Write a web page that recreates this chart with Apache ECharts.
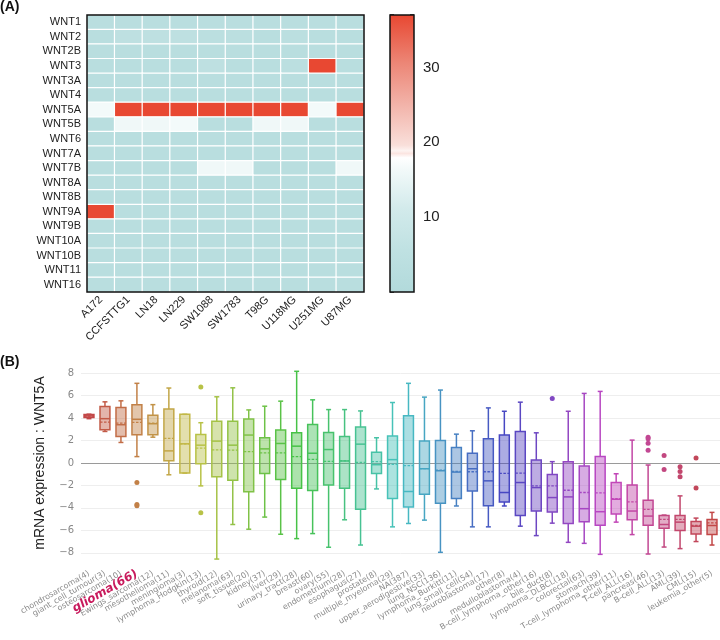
<!DOCTYPE html>
<html><head><meta charset="utf-8">
<script src="https://cdn.jsdelivr.net/npm/echarts@6/dist/echarts.min.js"></script>
<style>html,body{margin:0;padding:0;background:#fff}#c{width:720px;height:640px}</style>
</head><body><div id="c"></div>
<script>
// ---------- Panel A data ----------
const cellLines = ['A172','CCFSTTG1','LN18','LN229','SW1088','SW1783','T98G','U118MG','U251MG','U87MG'];
const wntGenes = ['WNT1','WNT2','WNT2B','WNT3','WNT3A','WNT4','WNT5A','WNT5B','WNT6','WNT7A','WNT7B','WNT8A','WNT8B','WNT9A','WNT9B','WNT10A','WNT10B','WNT11','WNT16'];
const heatRows = [
  [3,3,3,3,3,3,3,3,3,3],
  [3,5,5,5,4,4,3,4,3,3],
  [3,3,3,3,3,3,3,3,3,3],
  [3,3,3,3,5,3,3,4,37,3],
  [3,3,3,3,3,3,3,3,3,3],
  [3,3,3,3,3,3,3,3,3,3],
  [16.5,37,37,37,37,37,37,37,16.5,37],
  [3,16,16,16.5,3,3,16,16,3,3],
  [3,3,3,3,3,3,3,3,3,3],
  [3,3,3,3,3,3,3,3,3,3],
  [3,3,3,3,16,16,3,3,3,16],
  [3,3,3,3,3,3,3,3,3,3],
  [3,3,3,3,3,3,3,3,3,3],
  [37,3,3,3,3,3,3,3,3,3],
  [3,3,3,3,3,3,3,3,3,3],
  [3,3,3,3,3,3,3,3,3,3],
  [3,3,3,3,3,3,3,3,3,3],
  [3,3,3,3,3,3,3,3,3,3],
  [3,3,3,3,3,3,3,3,3,3]
];
const colorMin = 0, colorMax = 37;
const colorTicks = [10, 20, 30];

// ---------- Panel B data ----------
const boxCats = ['chondrosarcoma(4)','giant_cell_tumour(3)','osteosarcoma(10)','glioma(66)','Ewings_sarcoma(12)','mesothelioma(11)','meningioma(3)','lymphoma_Hodgkin(13)','thyroid(12)','melanoma(63)','soft_tissue(20)','kidney(37)','liver(29)','urinary_tract(28)','breast(60)','ovary(55)','endometrium(28)','esophagus(27)','prostate(8)','multiple_myeloma(29)','NA(387)','upper_aerodigestive(33)','lung_NSC(136)','lymphoma_Burkitt(11)','lung_small_cell(54)','neuroblastoma(17)','other(8)','medulloblastoma(4)','B-cell_lymphoma_other(16)','bile_duct(8)','lymphoma_DLBCL(18)','colorectal(63)','stomach(39)','T-cell_lymphoma_other(11)','T-cell_ALL(16)','pancreas(46)','B-cell_ALL(13)','AML(39)','CML(15)','leukemia_other(5)'];
const boxLow  = [3.95,2.81,1.83,0.57,2.3,-1.05,-0.9,-2.04,-8.56,-5.48,-5.9,-4.82,-6.35,-6.74,-6.29,-7.51,-5.06,-7.31,-2.31,-5.69,-5.39,-5.09,-7.96,-3.83,-5.69,-5.69,-3.83,-5.63,-6.47,-5.36,-7.07,-7.16,-8.14,-5.27,-6.38,-8.11,-7.49,-7.63,-7.0,-7.31];
const boxQ1   = [4.05,2.96,2.37,2.51,2.51,0.21,-0.9,-0.06,-1.23,-1.53,-2.57,-0.93,-1.47,-2.25,-2.46,-1.95,-2.25,-4.13,-0.93,-3.17,-3.92,-2.78,-3.59,-3.17,-2.49,-3.8,-3.47,-4.67,-4.28,-4.37,-5.39,-5.24,-5.54,-4.55,-5.06,-5.54,-5.81,-6.02,-6.32,-6.38];
const boxMed  = [4.2,3.95,3.41,3.89,3.5,1.08,1.71,1.59,1.95,1.59,2.49,1.26,1.74,1.5,0.87,1.2,0.18,1.68,-0.15,0.3,-2.54,-0.51,-0.69,-0.81,-0.51,-1.59,-2.63,-1.74,-2.19,-3.08,-3.02,-4.07,-4.34,-3.23,-4.28,-4.73,-5.48,-5.27,-5.63,-5.57];
const boxQ3   = [4.32,5.03,4.94,5.18,4.25,4.82,4.34,2.54,3.71,3.71,3.92,2.25,2.93,2.69,3.44,2.72,2.37,3.2,0.96,2.4,4.22,1.95,2.0,1.38,0.87,2.16,2.49,2.81,0.27,-1.02,0.12,-0.27,0.57,-1.74,-1.95,-3.32,-4.67,-4.67,-5.21,-5.03];
const boxHigh = [4.35,5.45,5.54,7.1,5.2,6.68,4.34,3.59,5.9,6.7,4.73,5.06,5.51,8.17,5.63,4.76,4.76,4.64,2.25,5.39,7.1,5.87,6.5,2.57,2.87,4.91,4.61,5.42,2.69,0.12,4.61,6.2,6.38,-0.96,2.04,-0.18,-4.64,-2.93,-4.91,-4.4];
const boxMean = [4.18,3.65,3.56,3.62,3.55,2.19,1.71,1.32,1.17,1.14,1.02,0.9,0.9,0.57,0.33,0.15,0.2,0.06,0.12,-0.12,-0.24,-0.51,-0.63,-0.75,-0.78,-0.78,-0.93,-0.9,-2.04,-2.04,-2.43,-2.63,-2.66,-3.17,-3.47,-4.13,-5.03,-5.03,-5.57,-5.33];
const outlierCats = ['glioma(66)','glioma(66)','glioma(66)','lymphoma_Hodgkin(13)','lymphoma_Hodgkin(13)','bile_duct(8)','pancreas(46)','pancreas(46)','pancreas(46)','pancreas(46)','B-cell_ALL(13)','B-cell_ALL(13)','AML(39)','AML(39)','AML(39)','CML(15)','CML(15)'];
const outlierVals = [-1.74,-3.7,-3.8,6.77,-4.43,5.75,2.3,2.15,1.77,1.14,0.66,-0.57,-0.33,-0.75,-1.23,0.45,-2.22];
const yTicks = [-8,-6,-4,-2,0,2,4,6,8];
const highlightCat = 'glioma(66)';

// ---------- styling helpers ----------
const stops = [[0,'#b2dadb'],[0.15,'#bfe1e2'],[0.3,'#d2eaeb'],[0.45,'#f4fafa'],[0.485,'#ffffff'],[0.5,'#fbe5e1'],[0.51,'#fdf3f1'],[0.53,'#f9dfda'],[0.68,'#f2b2a8'],[0.83,'#ec8575'],[1,'#e84832']];
function hex2rgb(h){return [parseInt(h.slice(1,3),16),parseInt(h.slice(3,5),16),parseInt(h.slice(5,7),16)];}
function colorAt(t){
  for(let k=1;k<stops.length;k++){
    if(t<=stops[k][0]){
      const [t0,c0]=stops[k-1],[t1,c1]=stops[k];
      const f=(t-t0)/(t1-t0), a=hex2rgb(c0), b=hex2rgb(c1);
      return 'rgb('+a.map((v,i)=>Math.round(v+(b[i]-v)*f)).join(',')+')';
    }
  }
  return stops[stops.length-1][1];
}
const rampColors = Array.from({length:75},(_,k)=>colorAt(k/74));
function catHue(i){return 360*i/(boxCats.length-1);}
function catColor(i){return 'hsl('+catHue(i).toFixed(1)+',50%,52%)';}
function catFill(i){return 'hsla('+catHue(i).toFixed(1)+',50%,52%,0.45)';}

const heatData = [];
heatRows.forEach((row,r)=>row.forEach((v,c)=>heatData.push([c,r,v])));
const boxData = boxCats.map((c,i)=>[i,boxLow[i],boxQ1[i],boxMed[i],boxQ3[i],boxHigh[i],boxMean[i]]);
const outlierData = outlierCats.map((c,k)=>[boxCats.indexOf(c),outlierVals[k]]);
const FONT = 'Liberation Sans, Arial, sans-serif';

const chart = echarts.init(document.getElementById('c'), null, {renderer:'canvas'});
chart.setOption({
  animation:false,
  backgroundColor:'#fff',
  title:[
    {text:'(A)',left:0,top:0,padding:0,textStyle:{fontSize:14,fontWeight:'bold',color:'#111',fontFamily:FONT}},
    {text:'(B)',left:0,top:355,padding:0,textStyle:{fontSize:14,fontWeight:'bold',color:'#111',fontFamily:FONT}}
  ],
  grid:[
    {left:87,top:15,width:277,height:277,show:true,borderColor:'#111',borderWidth:1.5,backgroundColor:'transparent',z:10},
    {left:390,top:15,width:24,height:277,show:true,borderColor:'#111',borderWidth:1.5,backgroundColor:'transparent',z:10},
    {left:81,right:0,top:362,height:202}
  ],
  visualMap:{type:'continuous',show:false,min:colorMin,max:colorMax,seriesIndex:0,inRange:{color:rampColors}},
  xAxis:[
    {gridIndex:0,type:'category',data:cellLines,axisLine:{show:false},axisTick:{show:false},splitLine:{show:false},
     axisLabel:{rotate:45,interval:0,fontSize:11,color:'#222',fontFamily:FONT,margin:6}},
    {gridIndex:1,type:'category',data:['bar'],show:false},
    {gridIndex:2,type:'category',data:boxCats.map(c=>c===highlightCat?{value:c,textStyle:{color:'#c81a5c',fontWeight:'bold',fontStyle:'italic',fontSize:12}}:c),
     axisLine:{show:false},axisTick:{show:false},
     axisLabel:{rotate:30,interval:0,fontSize:8,color:'#8a8a8a',fontFamily:'DejaVu Sans, Verdana, sans-serif',margin:9}}
  ],
  yAxis:[
    {gridIndex:0,type:'category',data:wntGenes,inverse:true,axisLine:{show:false},axisTick:{show:false},
     axisLabel:{fontSize:11,color:'#222',fontFamily:FONT,margin:6}},
    {gridIndex:1,type:'value',min:colorMin,max:colorMax,interval:10,position:'right',splitLine:{show:false},
     axisLine:{show:false},axisTick:{show:true,inside:true,length:4,lineStyle:{color:'#111',width:1.5}},
     axisLabel:{fontSize:15,color:'#222',fontFamily:FONT,margin:9,showMinLabel:false,
       formatter:v=>colorTicks.includes(v)?String(v):''}},
    {gridIndex:2,type:'value',min:-9,max:9,
     name:'mRNA expression : WNT5A',nameLocation:'middle',nameGap:34,nameRotate:90,
     nameTextStyle:{fontSize:14,color:'#222',fontFamily:FONT},
     axisLine:{show:false},axisTick:{show:false,customValues:yTicks},
     axisLabel:{customValues:yTicks,fontSize:10,color:'#888',fontFamily:'DejaVu Sans, Verdana, sans-serif',margin:7,
       formatter:v=>String(v).replace('-','\u2212')},
     splitLine:{show:true,lineStyle:{color:'#eeeeee',width:1}}},
    {gridIndex:1,type:'value',min:colorMin,max:colorMax,interval:10,position:'left',splitLine:{show:false},
     axisLine:{show:false},axisTick:{show:true,inside:true,length:4,lineStyle:{color:'#111',width:1.5}},
     axisLabel:{show:false}}
  ],
  series:[
    {type:'heatmap',xAxisIndex:0,yAxisIndex:0,data:heatData,
     itemStyle:{borderColor:'#ffffff',borderWidth:1.2},emphasis:{disabled:true}},
    {type:'custom',xAxisIndex:1,yAxisIndex:1,data:[[0,colorMin,colorMax]],silent:true,
     renderItem:function(params,api){
       const p0=api.coord([0,api.value(1)]), p1=api.coord([0,api.value(2)]);
       const w=api.size([1,0])[0];
       return {type:'rect',shape:{x:p0[0]-w/2,y:p1[1],width:w,height:p0[1]-p1[1]},
         style:{fill:new echarts.graphic.LinearGradient(0,1,0,0,stops.map(s=>({offset:s[0],color:s[1]})))}};
     }},
    {type:'custom',xAxisIndex:2,yAxisIndex:2,data:boxData,encode:{x:0,y:[1,2,3,4,5,6]},z:3,
     renderItem:function(params,api){
       const i=api.value(0);
       const x=api.coord([i,0])[0];
       const Y=v=>api.coord([i,v])[1];
       const band=api.size([1,0])[0];
       const bw=band*0.62, cw=bw*0.5;
       const col=catColor(i), fill=catFill(i);
       const low=api.value(1),q1=api.value(2),med=api.value(3),q3=api.value(4),high=api.value(5),mean=api.value(6);
       const ls={stroke:col,lineWidth:1.5};
       return {type:'group',children:[
         {type:'line',shape:{x1:x,y1:Y(high),x2:x,y2:Y(q3)},style:ls},
         {type:'line',shape:{x1:x,y1:Y(q1),x2:x,y2:Y(low)},style:ls},
         {type:'line',shape:{x1:x-cw/2,y1:Y(high),x2:x+cw/2,y2:Y(high)},style:ls},
         {type:'line',shape:{x1:x-cw/2,y1:Y(low),x2:x+cw/2,y2:Y(low)},style:ls},
         {type:'rect',shape:{x:x-bw/2,y:Y(q3),width:bw,height:Math.max(Y(q1)-Y(q3),0.5)},style:{fill:fill,stroke:col,lineWidth:1.5}},
         {type:'line',shape:{x1:x-bw/2,y1:Y(med),x2:x+bw/2,y2:Y(med)},style:ls},
         {type:'line',shape:{x1:x-bw/2,y1:Y(mean),x2:x+bw/2,y2:Y(mean)},style:{stroke:col,lineWidth:1.3,lineDash:[2.5,1.5]}}
       ]};
     }},
    {type:'scatter',xAxisIndex:2,yAxisIndex:2,data:outlierData,symbolSize:5,z:4,
     itemStyle:{color:p=>catColor(p.data[0]),opacity:1},
     markLine:{silent:true,symbol:'none',label:{show:false},data:[{yAxis:0}],
       lineStyle:{color:'#9a9a9a',width:1.2,type:'solid'},z:2}}
  ]
});
</script></body></html>
